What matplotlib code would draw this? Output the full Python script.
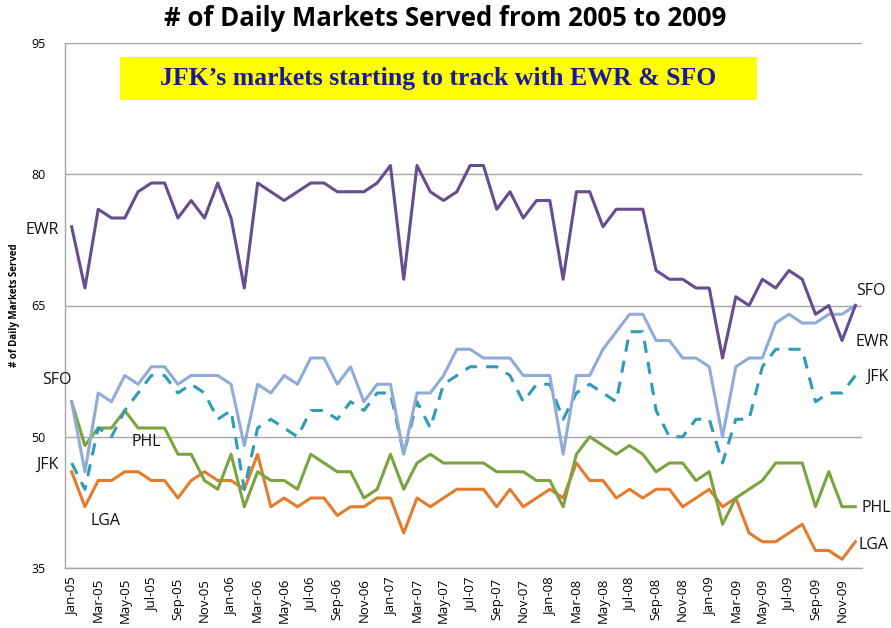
import matplotlib
matplotlib.use("Agg")
import matplotlib.pyplot as plt
from matplotlib.patches import Rectangle

months = ["Jan", "Feb", "Mar", "Apr", "May", "Jun", "Jul", "Aug", "Sep", "Oct", "Nov", "Dec"]
years = ["05", "06", "07", "08", "09"]
categories = [f"{m}-{y}" for y in years for m in months]

ewr = [74, 67, 76, 75, 75, 78, 79, 79, 75, 77, 75, 79,
       75, 67, 79, 78, 77, 78, 79, 79, 78, 78, 78, 79,
       81, 68, 81, 78, 77, 78, 81, 81, 76, 78, 75, 77,
       77, 68, 78, 78, 74, 76, 76, 76, 69, 68, 68, 67,
       67, 59, 66, 65, 68, 67, 69, 68, 64, 65, 61, 65]
sfo = [54, 46, 55, 54, 57, 56, 58, 58, 56, 57, 57, 57,
       56, 49, 56, 55, 57, 56, 59, 59, 56, 58, 54, 56,
       56, 48, 55, 55, 57, 60, 60, 59, 59, 59, 57, 57,
       57, 48, 57, 57, 60, 62, 64, 64, 61, 61, 59, 59,
       58, 50, 58, 59, 59, 63, 64, 63, 63, 64, 64, 65]
jfk = [47, 44, 51, 50, 53, 55, 57, 57, 55, 56, 55, 52,
       53, 44, 51, 52, 51, 50, 53, 53, 52, 54, 53, 55,
       55, 48, 54, 51, 56, 57, 58, 58, 58, 57, 54, 56,
       56, 52, 55, 56, 55, 54, 62, 62, 53, 50, 50, 52,
       52, 47, 52, 52, 58, 60, 60, 60, 54, 55, 55, 57]
phl = [54, 49, 51, 51, 53, 51, 51, 51, 48, 48, 45, 44,
       48, 42, 46, 45, 45, 44, 48, 47, 46, 46, 43, 44,
       48, 44, 47, 48, 47, 47, 47, 47, 46, 46, 46, 45,
       45, 42, 48, 50, 49, 48, 49, 48, 46, 47, 47, 45,
       46, 40, 43, 44, 45, 47, 47, 47, 42, 46, 42, 42]
lga = [46, 42, 45, 45, 46, 46, 45, 45, 43, 45, 46, 45,
       45, 44, 48, 42, 43, 42, 43, 43, 41, 42, 42, 43,
       43, 39, 43, 42, 43, 44, 44, 44, 42, 44, 42, 43,
       44, 43, 47, 45, 45, 43, 44, 43, 44, 44, 42, 43,
       44, 42, 43, 39, 38, 38, 39, 40, 37, 37, 36, 38]
y_ticks = [35, 50, 65, 80, 95]

W, H = 891, 628
fig = plt.figure(figsize=(W / 100, H / 100), dpi=100)
ax = fig.add_axes([65 / W, 1 - 568 / H, (862 - 65) / W, (568 - 43) / H])

x = list(range(len(categories)))
lw = 2.2
ax.plot(x, lga, color="#E37C2F", lw=lw, zorder=3)
ax.plot(x, phl, color="#7BA33E", lw=lw, zorder=3)
ax.plot(x, jfk, color="#2F9BB5", lw=lw, ls=(0, (4, 3)), zorder=4)
ax.plot(x, sfo, color="#90ABD8", lw=lw, zorder=5)
ax.plot(x, ewr, color="#664D8F", lw=lw, zorder=6)

ax.set_xlim(-0.5, len(categories) - 0.5)
ax.set_ylim(35, 95)
ax.set_yticks(y_ticks)
ax.set_yticklabels([str(v) for v in y_ticks], fontsize=9, family="Open Sans")
ax.set_xticks(x[::2])
ax.set_xticklabels(categories[::2], rotation=90, fontsize=9.5, family="Open Sans")
ax.tick_params(axis="both", length=0, pad=7)
ax.tick_params(axis="y", pad=14)
ax.grid(axis="y", color="#A6A6A6", lw=1)
ax.set_axisbelow(True)
for s in ["top", "right"]:
    ax.spines[s].set_visible(False)
for s in ["left", "bottom"]:
    ax.spines[s].set_color("#A6A6A6")
    ax.spines[s].set_linewidth(1)

ax.set_ylabel("# of Daily Markets Served", fontsize=7, fontweight="bold",
              family="Open Sans", labelpad=8)

fig.text(445 / W, 1 - 18 / H, "# of Daily Markets Served from 2005 to 2009",
         ha="center", va="center", fontsize=18.5, fontweight="bold", family="Open Sans")

fig.patches.append(Rectangle((120 / W, 1 - 100 / H), (757 - 120) / W, 43 / H,
                             transform=fig.transFigure, facecolor="#FFFF00",
                             edgecolor="none", zorder=1))
fig.text(438 / W, 1 - 78 / H, "JFK\u2019s markets starting to track with EWR & SFO",
         ha="center", va="center", fontsize=18.5, fontweight="bold",
         family="Liberation Serif", color="#1A1A99", zorder=2)

labels = [("EWR", 42, 230), ("SFO", 57, 380), ("PHL", 146, 442), ("JFK", 47, 465),
          ("LGA", 105, 521), ("SFO", 871, 291), ("EWR", 872, 342), ("JFK", 877, 377),
          ("PHL", 876, 508), ("LGA", 874, 545)]
for t, px, py in labels:
    fig.text(px / W, 1 - py / H, t, ha="center", va="center", fontsize=11.5,
             family="Open Sans", color="#111111")

fig.savefig("out.png", dpi=100)
